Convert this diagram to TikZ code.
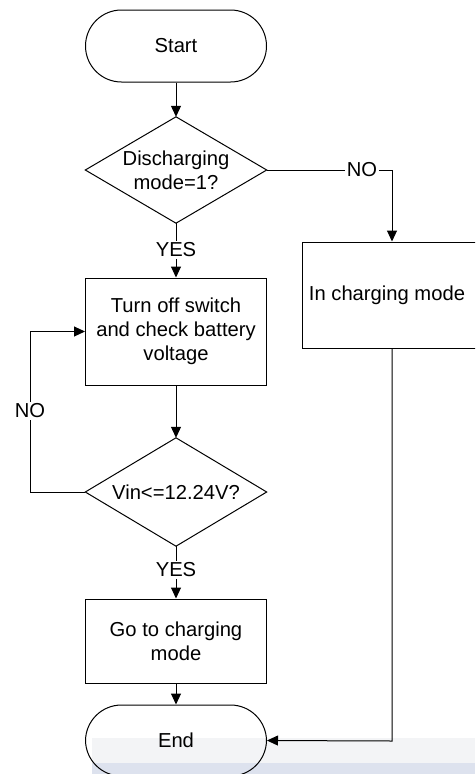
\documentclass[tikz,border=0pt]{standalone}
\usepackage{fontspec}
\setmainfont{Liberation Sans}
\usetikzlibrary{arrows.meta}
\definecolor{bandgray}{HTML}{F3F4F6}
\definecolor{bandblue}{HTML}{DDE2EE}
\begin{document}
\begin{tikzpicture}[x=1pt,y=-1pt,
  every node/.style={font=\fontsize{20.2}{24}\selectfont},
  line/.style={draw=black,line width=1pt},
  arr/.style={line,-{Triangle[length=11pt,width=10pt]}},
  term/.style={draw=black,line width=1pt,rectangle,rounded corners=36pt,minimum width=181pt,minimum height=72pt,inner sep=0pt,align=center},
  procbox/.style={draw=black,line width=1pt,rectangle,minimum width=181pt,inner sep=0pt,align=center},
  decision/.style={draw=none,rectangle,minimum width=181pt,minimum height=106pt,inner sep=0pt,align=center},
  lbl/.style={inner sep=1.5pt,fill=none}
]
\clip (0,0) rectangle (475,774);
\fill[white] (0,0) rectangle (475,774);
% background band from screenshot
\fill[bandgray] (92,738) rectangle (475,763);
\fill[bandblue] (92,763) rectangle (475,774);

\node[term] (start) at (176,46) {Start};
\node[decision] (d1) at (176,170) {Discharging\\mode=1?};
\draw[line] (d1.north) -- (d1.east) -- (d1.south) -- (d1.west) -- cycle;
\node[lbl] (yes1) at (176,250) {YES};
\node[procbox,minimum height=107pt] (b1) at (176,331.5) {Turn off switch\\and check battery\\voltage};
\node[procbox,minimum width=180pt,minimum height=106pt] (b2) at (392,295) {\hspace*{-10pt}\raisebox{-3pt}{In charging mode}};
\node[lbl] (no1) at (362,170) {NO};
\node[decision,minimum height=108pt] (d2) at (176,492) {Vin<=12.24V?};
\draw[line] (d2.north) -- (d2.east) -- (d2.south) -- (d2.west) -- cycle;
\node[lbl] (no2) at (30,411) {NO};
\node[lbl] (yes2) at (176,570) {YES};
\node[procbox,minimum height=84pt] (b3) at (176,641) {Go to charging\\mode};
\node[term,minimum height=71pt] (end) at (176,740.5) {End};

\coordinate (c1) at (392,170);
\coordinate (c2) at (30,492);
\coordinate (c3) at (30,331.5);
\coordinate (c4) at (392,741);

\draw[arr] (start.south) -- (d1.north);
\draw[line] (d1.east) -- (no1.west);
\draw[arr] (no1.east) -- (c1) -- (b2.north);
\draw[line] (d1.south) -- (yes1.north);
\draw[arr] (yes1.south) -- (b1.north);
\draw[arr] (b1.south) -- (d2.north);
\draw[line] (d2.west) -- (c2) -- (no2.south);
\draw[arr] (no2.north) -- (c3) -- (b1.west);
\draw[line] (d2.south) -- (yes2.north);
\draw[arr] (yes2.south) -- (b3.north);
\draw[arr] (b3.south) -- (end.north);
\draw[arr] (b2.south) -- (c4) -- (end.east);
\end{tikzpicture}
\end{document}
